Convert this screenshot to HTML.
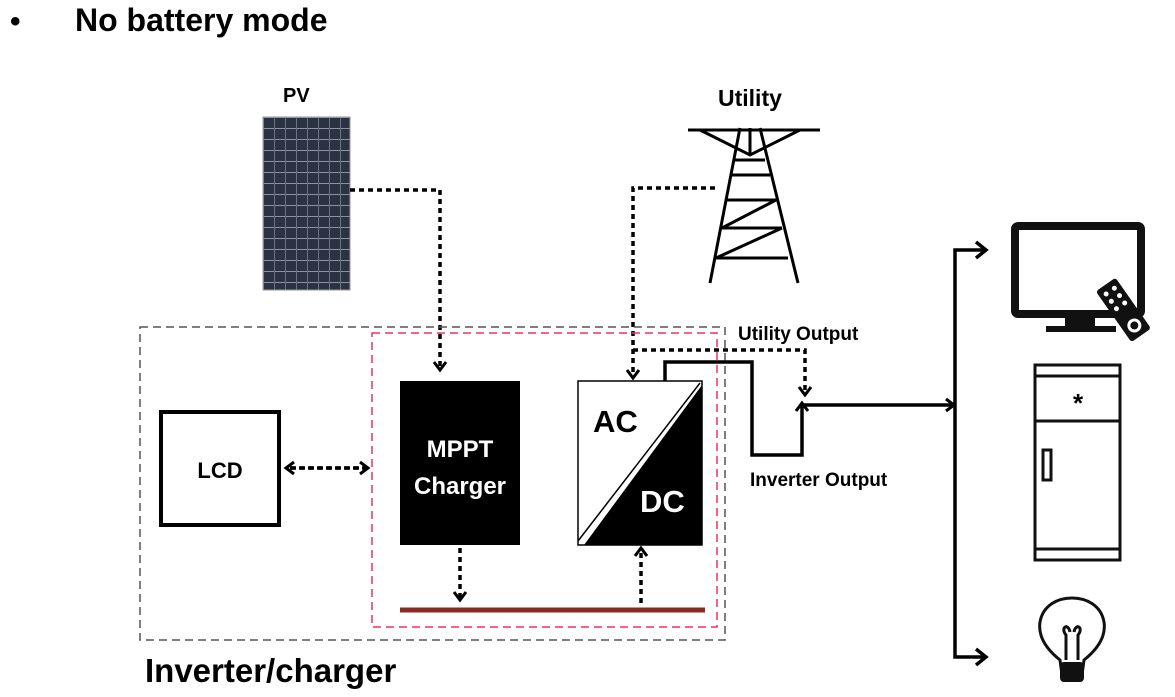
<!DOCTYPE html>
<html><head><style>body{margin:0;background:#fff}svg{display:block}text{font-family:"Liberation Sans",sans-serif;font-weight:bold}</style></head><body>
<svg width="1175" height="697" viewBox="0 0 1175 697">
<defs>
<pattern id="pv" x="263" y="117" width="11" height="11" patternUnits="userSpaceOnUse"><rect width="11" height="11" fill="#2b3342"/><rect x="0" y="0" width="11" height="1" fill="#8a93a6"/><rect x="0" y="0" width="1" height="11" fill="#6a7386"/></pattern>
<marker id="ah" markerWidth="16" markerHeight="16" refX="12" refY="8" orient="auto" markerUnits="userSpaceOnUse"><path d="M4,2 L12,8 L4,14" fill="none" stroke="#000" stroke-width="3"/></marker>
</defs>
<text x="10" y="31" font-size="30">•</text>
<text x="75" y="31" font-size="32">No battery mode</text>
<text x="283" y="102" font-size="20">PV</text>
<rect x="263" y="117" width="87" height="173" fill="url(#pv)" stroke="#999"/>
<text x="718" y="106" font-size="23">Utility</text>
<g stroke="#000" stroke-width="3" fill="none">
<path d="M688,130 H820 M700,130 L750,155 L800,130 M750,128 V155 M740,128 L710,283 M760,128 L798,283 M735,160 H765 M732,175 H770 M725,200 H776 M722,228 H782 M722,228 L776,200 M715,258 H788 M716,258 L782,228"/>
</g>
<g stroke="#000" stroke-width="3.5" fill="none" stroke-dasharray="5,4">
<path d="M350,190 H440 V370" marker-end="url(#ah)"/>
<path d="M715,188 H633 V378" marker-end="url(#ah)"/>
<path d="M633,350 H805 V395" marker-end="url(#ah)"/>
<path d="M290,468 H368" marker-end="url(#ah)"/>
<path d="M368,468 H286" marker-end="url(#ah)"/>
<path d="M460,548 V600" marker-end="url(#ah)"/>
<path d="M641,603 V548" marker-end="url(#ah)"/>
</g>
<rect x="140" y="327" width="585" height="313" fill="none" stroke="#555" stroke-width="1.5" stroke-dasharray="8,5"/>
<rect x="372" y="333" width="345" height="294" fill="none" stroke="#e35" stroke-width="1.5" stroke-dasharray="8,5"/>
<rect x="161" y="412" width="118" height="113" fill="none" stroke="#000" stroke-width="4"/>
<text x="220" y="478" font-size="22" text-anchor="middle">LCD</text>
<rect x="400" y="381" width="120" height="164" fill="#000"/>
<text x="460" y="457" font-size="24" fill="#fff" text-anchor="middle">MPPT</text>
<text x="460" y="494" font-size="24" fill="#fff" text-anchor="middle">Charger</text>
<rect x="578" y="381" width="124" height="164" fill="#fff" stroke="#000" stroke-width="1.5"/>
<path d="M702,385 L702,545 L584,545 Z" fill="#000"/>
<line x1="578" y1="541" x2="700" y2="383" stroke="#000" stroke-width="1.5"/>
<text x="593" y="432" font-size="31">AC</text>
<text x="640" y="512" font-size="31" fill="#fff">DC</text>
<line x1="400" y1="610" x2="705" y2="610" stroke="#8b2a22" stroke-width="5"/>
<g stroke="#000" stroke-width="3.5" fill="none">
<path d="M665,381 V362 H752 V455 H802 V403" marker-end="url(#ah)"/>
<path d="M802,405 H954" marker-end="url(#ah)"/>
<path d="M985,250 H955 V657 H985"/>
<path d="M976,242 L986,250 L976,258 M976,649 L986,657 L976,665"/>
</g>
<text x="738" y="340" font-size="19">Utility Output</text>
<text x="750" y="486" font-size="19">Inverter Output</text>
<text x="145" y="682" font-size="33">Inverter/charger</text>
<!-- TV -->
<rect x="1015" y="226" width="126" height="88" rx="3" fill="none" stroke="#111" stroke-width="8"/>
<rect x="1065" y="314" width="30" height="14" fill="#111"/>
<rect x="1046" y="326" width="70" height="6" fill="#111"/>
<g transform="translate(1120,305) rotate(-35)"><rect x="-12" y="-25" width="24" height="62" rx="3" fill="#111"/><circle cx="0" cy="25" r="7" fill="#fff"/><circle cx="0" cy="25" r="4" fill="#111"/><g fill="#fff"><circle cx="-5" cy="-17" r="2.5"/><circle cx="5" cy="-17" r="2.5"/><circle cx="-5" cy="-8" r="2.5"/><circle cx="5" cy="-8" r="2.5"/><circle cx="-5" cy="1" r="2.5"/><circle cx="5" cy="1" r="2.5"/></g></g>
<!-- fridge -->
<g stroke="#111" stroke-width="3" fill="none">
<rect x="1035" y="365" width="85" height="195"/>
<line x1="1035" y1="376" x2="1120" y2="376"/>
<line x1="1035" y1="421" x2="1120" y2="421"/>
<line x1="1035" y1="549" x2="1120" y2="549"/>
<rect x="1043" y="450" width="8" height="30"/>
</g>
<text x="1078" y="412" font-size="26" text-anchor="middle">*</text>
<!-- bulb -->
<g stroke="#111" stroke-width="3" fill="none">
<path d="M1082,675 H1062 L1060,660 C1045,648 1038,635 1040,622 C1043,605 1058,598 1072,598 C1086,598 1101,605 1104,622 C1106,635 1099,648 1084,660 Z"/>
<path d="M1066,660 V635 C1060,628 1068,622 1070,632 M1078,660 V635 C1084,628 1076,622 1074,632"/>
</g>
<rect x="1060" y="662" width="24" height="20" rx="4" fill="#111"/>
</svg>
</body></html>
